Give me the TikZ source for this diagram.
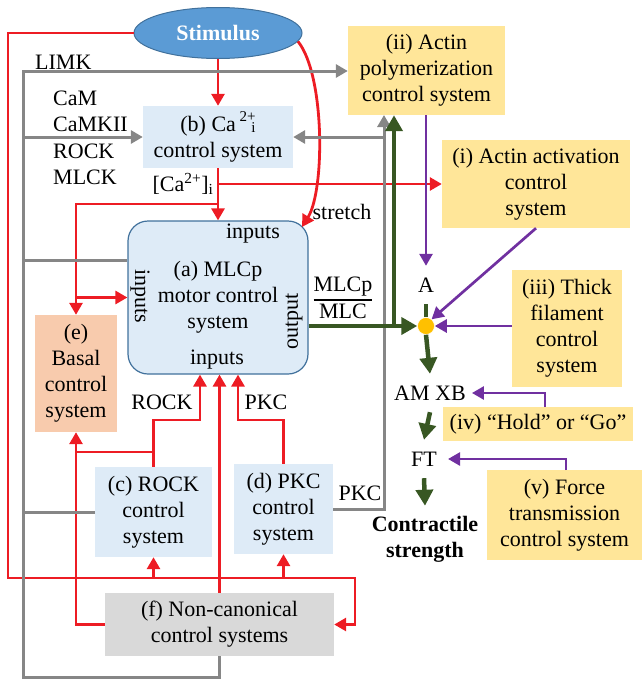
\documentclass[tikz,border=0pt]{standalone}
\usepackage{fontspec}
\setmainfont{Liberation Serif}
\usetikzlibrary{arrows.meta,shapes.geometric}
\definecolor{myred}{RGB}{237,28,36}
\definecolor{mygray}{RGB}{134,134,134}
\definecolor{mygreen}{RGB}{56,87,35}
\definecolor{mypurple}{RGB}{112,48,160}
\definecolor{boxblue}{RGB}{222,235,247}
\definecolor{edgeblue}{RGB}{65,113,156}
\definecolor{stimblue}{RGB}{91,155,213}
\definecolor{boxyellow}{RGB}{255,230,153}
\definecolor{boxpeach}{RGB}{248,203,173}
\definecolor{boxgray}{RGB}{217,217,217}
\definecolor{dotyellow}{RGB}{255,192,0}
\newcommand{\smallfs}{\fontsize{15}{15}\selectfont}
\begin{document}
\begin{tikzpicture}[x=1pt,y=-1pt,font=\fontsize{22}{26}\selectfont,
  sbox/.style={rectangle,inner sep=0pt,align=center},
  bluebox/.style={sbox,fill=boxblue},
  yellowbox/.style={sbox,fill=boxyellow},
  lbl/.style={inner sep=0pt,align=center},
  redln/.style={draw=myred,line width=2.8pt},
  grayln/.style={draw=mygray,line width=3pt},
  greenln/.style={draw=mygreen,line width=4.5pt},
  purpln/.style={draw=mypurple,line width=2.7pt},
  tip/.style={-{Triangle[length=12pt,width=13pt]}},
  bigtip/.style={-{Triangle[length=16pt,width=17pt]}}]
\path[use as bounding box] (0,0) rectangle (642,680);

% boxes
\node[ellipse,fill=stimblue,draw=edgeblue,line width=1pt,minimum width=168pt,minimum height=51pt,inner sep=0pt,text=white,font=\fontsize{22}{26}\selectfont\bfseries] (stim) at (218,33) {Stimulus};
\node[bluebox,minimum width=150pt,minimum height=62pt] (b) at (218,137) {(b) Ca\,\raisebox{10pt}{\smallfs 2+}\llap{\raisebox{-0.5pt}{\smallfs i}}\\control system};
\node[bluebox,draw=edgeblue,line width=1.2pt,rounded corners=20pt,minimum width=180pt,minimum height=153pt] (a) at (218,297.5) {(a) MLCp\\motor control\\system};
\node[yellowbox,minimum width=157pt,minimum height=89pt] (ii) at (426.5,70.5) {(ii) Actin\\polymerization\\control system};
\node[yellowbox,minimum width=188pt,minimum height=88pt] (i) at (536,184) {(i) Actin activation\\control\\system};
\node[yellowbox,minimum width=110pt,minimum height=117pt] (iii) at (567,328.5) {(iii) Thick\\filament\\control\\system};
\node[yellowbox,minimum width=190pt,minimum height=34pt] (iv) at (538,424) {(iv) “Hold” or “Go”};
\node[yellowbox,minimum width=155pt,minimum height=90pt] (v) at (564.5,515) {(v) Force\\transmission\\control system};
\node[sbox,fill=boxpeach,minimum width=82pt,minimum height=117pt] (e) at (76,373.5) {(e)\\Basal\\control\\system};
\node[bluebox,minimum width=117pt,minimum height=90pt] (c) at (153.5,512) {(c) ROCK\\control\\system};
\node[bluebox,minimum width=99pt,minimum height=90pt] (d) at (283.5,509) {(d) PKC\\control\\system};
\node[sbox,fill=boxgray,minimum width=229pt,minimum height=63pt] (f) at (219.5,624.5) {(f) Non-canonical\\control systems};

% labels
\node[lbl,anchor=west] (limk) at (35,62) {LIMK};
\node[lbl,anchor=west] (cam) at (53,98) {CaM};
\node[lbl,anchor=west] (camkii) at (53,124) {CaMKII};
\node[lbl,anchor=west] (rockl) at (53,151) {ROCK};
\node[lbl,anchor=west] (mlck) at (53,177) {MLCK};
\node[lbl] (cai) at (183,184) {[Ca\textsuperscript{2+}]\textsubscript{i}};
\node[lbl] (stretch) at (342,212) {stretch};
\node[lbl] (intop) at (253,234) {inputs};
\node[lbl] (inbot) at (217,360) {inputs};
\node[lbl,rotate=-90] (inleft) at (140,296) {inputs};
\node[lbl,rotate=90] (outright) at (294,321) {output};
\node[lbl] (rockin) at (162,402) {ROCK};
\node[lbl] (pkcin) at (266,402) {PKC};
\node[lbl] (pkcout) at (360,493) {PKC};
\node[lbl] (ratio) at (343,300) {{\setlength{\arrayrulewidth}{1.8pt}\renewcommand{\arraystretch}{0.95}\begin{tabular}{@{}c@{}}MLCp\\\hline MLC\end{tabular}}};
\node[lbl,minimum height=38pt] (A) at (426,285) {A};
\node[circle,fill=dotyellow,draw=white,line width=0.5pt,minimum size=17pt,inner sep=0pt] (dot) at (426,326) {};
\node[lbl,minimum height=38pt,inner xsep=6pt] (amxb) at (430,393) {AM XB};
\node[lbl,minimum height=38pt,inner xsep=11pt] (ft) at (424,459) {FT};
\node[lbl,inner ysep=10pt,font=\fontsize{22}{26}\selectfont\bfseries] (contr) at (425,539) {Contractile\\strength};

% red connectors
\coordinate (rL) at (8,578);
\coordinate (rR) at (355,578);
\draw[redln,tip] (stim.west) -| (rL) -- (rR) |- (f.east);
\draw[redln,tip] (c.south |- rL) -- (c.south);
\draw[redln,tip] (d.south |- rL) -- (d.south);
\draw[redln,tip] (stim.south) -- (b.north);
\draw[redln,tip] (b.south) -- (a.north);
\coordinate (ca1) at (218,184);
\draw[redln,tip] (ca1) -- (ca1 -| i.west);
\coordinate (ca2) at (218,204);
\draw[redln,tip] (ca2) -| (e.north);
\draw[redln,tip] (e.north |- a.west) -- (a.west);
\coordinate (strEnd) at (302,227);
\draw[redln,tip] (stim.-6) .. controls (325,75) and (325,190) .. (strEnd);
\coordinate (rk) at (200,420);
\draw[redln,tip] (c.north) |- (rk) -- (rk |- a.south);
\coordinate (eJ) at (76,452);
\draw[redln] (eJ) -- (eJ -| c.north);
\draw[redln,tip] (f.west) -| (e.south);
\draw[redln,tip] (f.north) -- (f.north |- a.south);
\coordinate (pk) at (238,420);
\draw[redln,tip] (d.north) |- (pk) -- (pk |- a.south);

% gray connectors
\coordinate (gBL) at (23,677);
\coordinate (gTL) at (23,71);
\draw[grayln,tip] (f.south) |- (gBL) -- (gTL) -- (gTL -| ii.west);
\draw[grayln,tip] (gTL |- b.west) -- (b.west);
\coordinate (ga) at (23,260);
\draw[grayln] (ga) -- (ga -| a.west);
\draw[grayln] (gTL |- c.west) -- (c.west);
\coordinate (gUp) at (384,115);
\draw[grayln,tip] (d.east) -| (gUp);
\coordinate (gB) at (384,137);
\draw[grayln,tip] (gB) -- (b.east);

% green connectors
\coordinate (gJ) at (394,326);
\draw[greenln,bigtip] (a.east |- dot) -- (dot.west);
\draw[greenln,bigtip] (gJ) -- (gJ |- ii.south);
\draw[greenln] (A.south) -- (dot.north);
\draw[greenln,bigtip] (dot.south) -- (amxb.north);
\draw[greenln,bigtip] (amxb.south) -- (ft.north);
\draw[greenln,bigtip] (ft.south) -- (contr.north);

% purple connectors
\draw[purpln,tip] (A.north |- ii.south) -- (A.north);
\draw[purpln,tip] (i.south) -- (dot.50);
\draw[purpln,tip] (iii.west |- dot) -- (dot.east);
\coordinate (p4) at (545,407);
\draw[purpln,tip] (p4) |- (amxb.east);
\coordinate (p5) at (566,470);
\draw[purpln,tip] (p5) |- (ft.east);
\end{tikzpicture}
\end{document}
